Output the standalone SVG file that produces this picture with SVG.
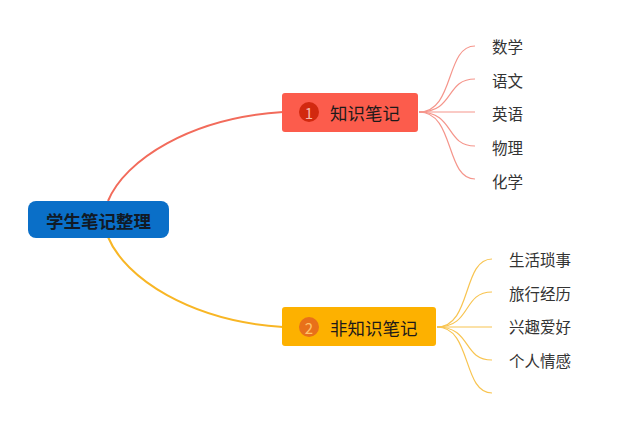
<svg xmlns="http://www.w3.org/2000/svg" width="640" height="422" viewBox="0 0 640 422">
<style>
text{font-family:"Noto Sans CJK SC","Noto Sans",sans-serif;dominant-baseline:central}
.root{font-size:17.5px;font-weight:bold;fill:#111a26}
.main{font-size:17.5px;fill:#1e1a1a}
.num{font-size:15px;text-anchor:middle}
.leaf{font-size:15.5px;fill:#333}
.c1{fill:none;stroke:#f26b5b;stroke-width:2}
.c2{fill:none;stroke:#f8b625;stroke-width:2}
.f1{fill:none;stroke:#f5958b;stroke-width:1.2}
.f2{fill:none;stroke:#f8c450;stroke-width:1.2}
</style>
<rect width="640" height="422" fill="#fff"/>
<g id="connectors">
<path class="c1" d="M108,201 C125,160 190,118 283,112"/>
<path class="c2" d="M108,237 C125,278 190,321 283,327"/>
<g>
<path class="f1" d="M419,112 C455,112 445,46 475,46"/>
<path class="f1" d="M419,112 C455,112 445,79 475,79"/>
<path class="f1" d="M419,112 L475,112"/>
<path class="f1" d="M419,112 C455,112 445,146 475,146"/>
<path class="f1" d="M419,112 C455,112 445,179 475,179"/>
</g>
<g>
<path class="f2" d="M437,327 C472,327 462,259 492,259"/>
<path class="f2" d="M437,327 C472,327 462,292 492,292"/>
<path class="f2" d="M437,327 L492,327"/>
<path class="f2" d="M437,327 C472,327 462,360 492,360"/>
<path class="f2" d="M437,327 C472,327 462,393 492,393"/>
</g>
</g>
<g id="root">
<rect x="28" y="201" width="141" height="37" rx="8" fill="#0a6fc8"/>
<text class="root" x="98.5" y="220" text-anchor="middle">学生笔记整理</text>
</g>
<g id="node1">
<rect x="282" y="93" width="136" height="39" rx="3" fill="#fc5c4c"/>
<circle cx="309" cy="112" r="10" fill="#d2290f"/>
<text class="num" x="309" y="112" fill="#f7b8a8">1</text>
<text class="main" x="330" y="112">知识笔记</text>
</g>
<g id="node2">
<rect x="282" y="307" width="154" height="39" rx="3" fill="#fdb100"/>
<circle cx="309" cy="327" r="10" fill="#e8701a"/>
<text class="num" x="309" y="327" fill="#ffc46a">2</text>
<text class="main" x="330" y="327">非知识笔记</text>
</g>
<g id="leaf-math"><text class="leaf" x="492" y="46">数学</text></g>
<g id="leaf-chinese"><text class="leaf" x="492" y="80">语文</text></g>
<g id="leaf-english"><text class="leaf" x="492" y="113">英语</text></g>
<g id="leaf-physics"><text class="leaf" x="492" y="147">物理</text></g>
<g id="leaf-chemistry"><text class="leaf" x="492" y="181">化学</text></g>
<g id="leaf-life"><text class="leaf" x="509" y="259">生活琐事</text></g>
<g id="leaf-travel"><text class="leaf" x="509" y="293">旅行经历</text></g>
<g id="leaf-hobby"><text class="leaf" x="509" y="326">兴趣爱好</text></g>
<g id="leaf-emotion"><text class="leaf" x="509" y="360">个人情感</text></g>
</svg>
